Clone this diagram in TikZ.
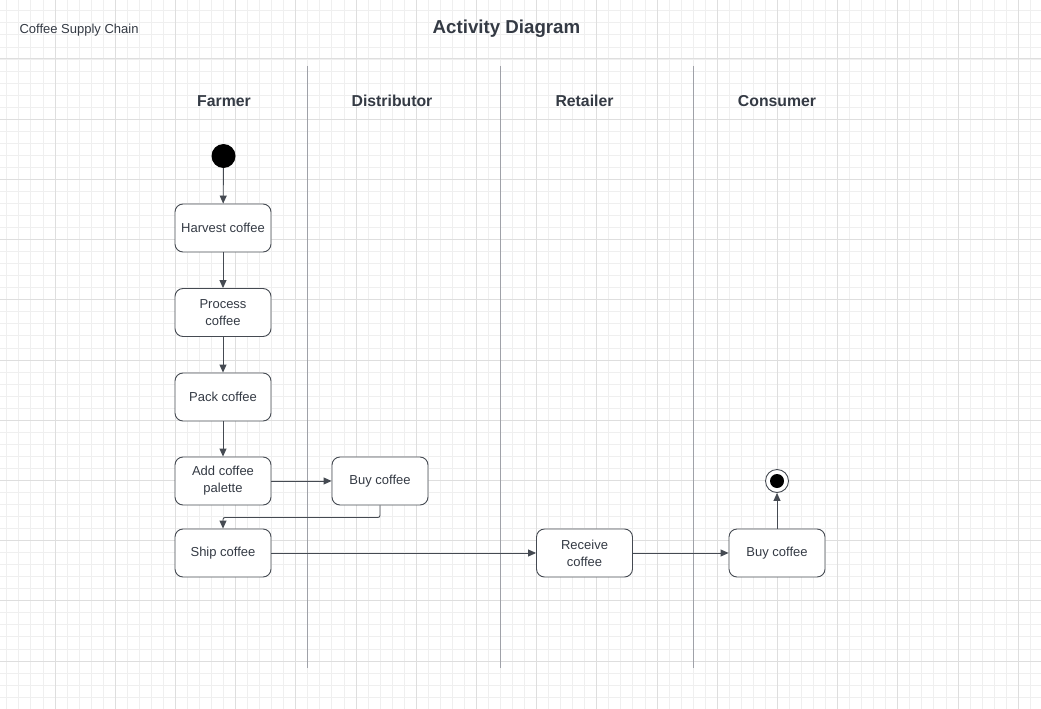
\documentclass[tikz,border=0pt]{standalone}
\usepackage{fontspec}
\setmainfont{Liberation Sans}
\usetikzlibrary{arrows.meta}
\definecolor{txt}{HTML}{343A44}
\definecolor{edge}{HTML}{454A52}
\definecolor{gridmin}{HTML}{EFEFEF}
\definecolor{gridmaj}{HTML}{DEDEDE}
\definecolor{lane}{HTML}{9FA1A8}
\tikzset{
  act/.style={draw=edge, line width=0.9pt, rounded corners=8pt, fill=white,
    minimum width=96pt, minimum height=48pt, inner sep=0pt, align=center,
    text=txt, font=\fontsize{13}{17}\selectfont},
  flow/.style={draw=edge, line width=0.9pt, -{Triangle[length=8pt,width=7pt]}},
  lanehead/.style={text=txt, font=\fontsize{15.8}{18}\selectfont\bfseries},
  laneline/.style={draw=lane, line width=1pt},
}
\begin{document}
\begin{tikzpicture}[x=1pt,y=-1pt]
\useasboundingbox (0,0) rectangle (1041,709);
\fill[white] (0,0) rectangle (1041,709);
% grid
\foreach \i in {0,...,85} {\draw[gridmin, line width=0.9pt] ({6.84+12.04*\i},0) -- ({6.84+12.04*\i},709);}
\foreach \j in {0,...,57} {\draw[gridmin, line width=0.9pt] (0,{10.84+12.04*\j}) -- (1041,{10.84+12.04*\j});}
\foreach \i in {0,...,16} {\draw[gridmaj, line width=1pt] ({55+60.2*\i},0) -- ({55+60.2*\i},709);}
\foreach \j in {0,...,10} {\draw[gridmaj, line width=1pt] (0,{59+60.2*\j}) -- (1041,{59+60.2*\j});}
% titles
\node[anchor=west, text=txt, font=\fontsize{13}{15}\selectfont] (sub) at (16,30.5) {Coffee Supply Chain};
\node[text=txt, font=\fontsize{18.7}{22}\selectfont\bfseries] (title) at (506.5,28.5) {Activity Diagram};
% lanes
\node[lanehead] (hf) at (224,101) {Farmer};
\node[lanehead] (hd) at (392,101) {Distributor};
\node[lanehead] (hr) at (584.5,101) {Retailer};
\node[lanehead] (hc) at (777,101) {Consumer};
\coordinate (l1t) at (307.5,66); \coordinate (l1b) at (307.5,667.5);
\coordinate (l2t) at (500.5,66); \coordinate (l2b) at (500.5,667.5);
\coordinate (l3t) at (693.5,66); \coordinate (l3b) at (693.5,667.5);
\draw[laneline] (l1t) -- (l1b);
\draw[laneline] (l2t) -- (l2b);
\draw[laneline] (l3t) -- (l3b);
% nodes
\node[circle, fill=black, minimum size=24pt, inner sep=0pt] (start) at (223.5,156) {};
\node[act] (harvest) at (223,228) {Harvest coffee};
\node[act] (process) at (223,312.5) {Process\\coffee};
\node[act] (pack) at (223,397) {Pack coffee};
\node[act] (add) at (223,481) {Add coffee\\palette};
\node[act] (ship) at (223,553) {Ship coffee};
\node[act] (buyd) at (380,481) {Buy coffee};
\node[act] (receive) at (584.5,553) {Receive\\coffee};
\node[act] (buyc) at (777,553) {Buy coffee};
\node[circle, draw=edge, line width=0.9pt, fill=white, minimum size=23pt, inner sep=0pt] (end) at (777,481) {};
\node[circle, fill=black, minimum size=14pt, inner sep=0pt] (endin) at (777,481) {};
% flows
\draw[flow] (start) -- (harvest);
\draw[flow] (harvest) -- (process);
\draw[flow] (process) -- (pack);
\draw[flow] (pack) -- (add);
\draw[flow] (add) -- (buyd);
\draw[flow, rounded corners=2pt] (buyd.south) -- ++(0,12) -| (ship.north);
\draw[flow] (ship) -- (receive);
\draw[flow] (receive) -- (buyc);
\draw[flow] (buyc) -- (end);
\end{tikzpicture}
\end{document}
